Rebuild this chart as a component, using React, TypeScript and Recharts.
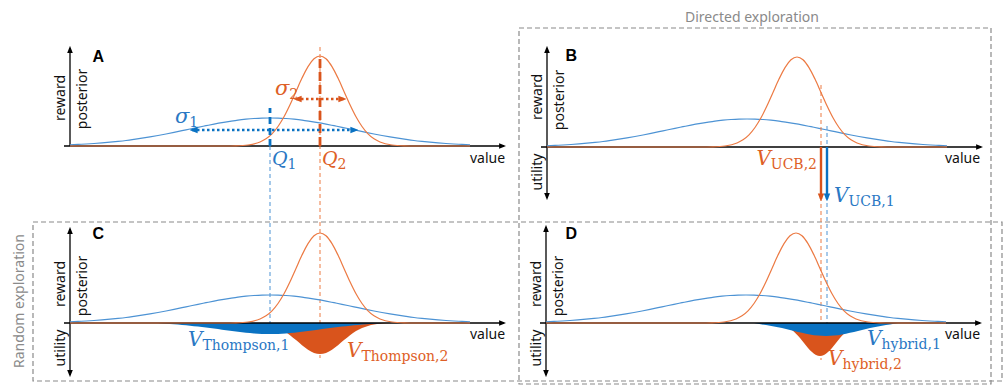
import React from "react";
import {
   Area,
   ComposedChart,
   Line,
   ReferenceDot,
   ReferenceLine,
   XAxis,
   YAxis,
} from "recharts";

// reward posteriors, value axis runs 0..110, heights in density units
const blueX = [
   0, 2, 4, 6, 8, 10, 12, 14, 16, 18, 20, 22, 24, 26, 28, 30, 32, 34, 36, 38,
   40, 42, 44, 46, 48, 50, 52, 54, 56, 58, 60, 62, 64, 66, 68, 70, 72, 74, 76,
   78, 80, 82, 84, 86, 88, 90, 92, 94, 96, 98, 100,
];
const bluePosterior = [
   1.2, 1.6, 2.0, 2.5, 3.1, 3.8, 4.6, 5.5, 6.6, 7.8, 9.1, 10.5, 12.0, 13.6,
   15.3, 17.0, 18.7, 20.3, 21.9, 23.4, 24.7, 25.9, 26.8, 27.5, 27.9, 28.0,
   27.9, 27.5, 26.8, 25.9, 24.7, 23.4, 21.9, 20.3, 18.7, 17.0, 15.3, 13.6,
   12.0, 10.5, 9.1, 7.8, 6.6, 5.5, 4.6, 3.8, 3.1, 2.5, 2.0, 1.6, 1.2,
];
const orangeX = [
   0, 38.5, 41.5, 44.5, 47.5, 49, 50.5, 52, 53.5, 55, 56.5, 58, 59.5, 61, 62.5,
   64, 65.5, 67, 68.5, 70, 71.5, 73, 74.5, 76, 77.5, 80.5, 83.5, 86.5, 100,
];
const orangePosterior = [
   0, 0, 0.2, 1.0, 4.0, 7.2, 12.2, 19.5, 29.2, 41.2, 54.6, 67.9, 79.4, 87.2,
   90.0, 87.2, 79.4, 67.9, 54.6, 41.2, 29.2, 19.5, 12.2, 7.2, 4.0, 1.0, 0.2,
   0, 0,
];

// Thompson utilities (panel C)
const thompsonBlueX = [
   22, 24, 26, 28, 30, 32, 34, 36, 38, 40, 42, 44, 46, 48, 50, 52, 54, 56, 58,
   60, 62, 64, 66, 68, 70, 72, 74, 76, 78,
];
const thompsonBlue = [
   0, -0.8, -1.3, -2.0, -2.7, -3.6, -4.5, -5.6, -6.7, -7.8, -8.8, -9.7, -10.4,
   -10.9, -11.0, -10.9, -10.4, -9.7, -8.8, -7.8, -6.7, -5.6, -4.5, -3.6, -2.7,
   -2.0, -1.3, -0.8, 0,
];
const thompsonOrangeX = [
   44.5, 47.5, 49, 50.5, 52, 53.5, 55, 56.5, 58, 59.5, 61, 62.5, 64, 65.5, 67,
   68.5, 70, 71.5, 73, 74.5, 76, 77.5, 80.5,
];
const thompsonOrange = [
   0, -0.8, -1.5, -2.9, -5.0, -8.1, -12.2, -17.1, -22.2, -26.7, -29.9, -31.0,
   -29.9, -26.7, -22.2, -17.1, -12.2, -8.1, -5.0, -2.9, -1.5, -0.8, 0,
];

// hybrid utilities (panel D)
const hybridBlueX = [
   52, 54, 56, 58, 60, 62, 64, 66, 68, 70, 72, 74, 76, 78, 80, 82, 84, 86, 88,
];
const hybridBlue = [
   0, -1.6, -2.8, -4.2, -6.0, -7.9, -9.8, -11.5, -12.6, -13.0, -12.6, -11.5,
   -9.8, -7.9, -6.0, -4.2, -2.8, -1.6, 0,
];
const hybridOrangeX = [
   56.5, 58.5, 59.5, 60.5, 61.5, 62.5, 63.5, 64.5, 65.5, 66.5, 67.5, 68.5, 69.5,
   70.5, 71.5, 72.5, 73.5, 74.5, 75.5, 76.5, 77.5, 78.5, 80.5,
];
const hybridOrange = [
   0, -1.4, -2.6, -4.5, -7.1, -10.7, -15.1, -20.0, -24.9, -29.1, -32.0, -33.0,
   -32.0, -29.1, -24.9, -20.0, -15.1, -10.7, -7.1, -4.5, -2.6, -1.4, 0,
];

// summary statistics
const Q1 = 50;
const Q2 = 62.5;
const SIGMA1 = 20;
const SIGMA2 = 6;
const UCB1 = Q1 + SIGMA1;
const UCB2 = Q2 + SIGMA2;

const toRows = (xs: number[], ys: number[]) =>
   xs.map((x, i) => ({ x, y: ys[i] }));

const blueRows = toRows(blueX, bluePosterior);
const orangeRows = toRows(orangeX, orangePosterior);

const BLUE_LINE = "#4d93d4";
const ORANGE_LINE = "#ec7a43";
const BLUE_FILL = "#0a72c2";
const ORANGE_FILL = "#d9541c";
const BLUE_TEXT = "#2a78c4";
const ORANGE_TEXT = "#de6026";
const GREY = "#8a8a8a";

const SANS = "'Noto Sans', 'Liberation Sans', sans-serif";
const SERIF = "'DejaVu Serif', serif";

const PANEL_W = 530;
const PANEL_H = 180;
const MARGIN = { top: 10, right: 20, bottom: 10, left: 70 };

const note = (key: string, x: number, y: number, node: React.ReactNode) => (
   <ReferenceDot
      key={key}
      x={x}
      y={y}
      r={1}
      fill="none"
      stroke="none"
      ifOverflow="visible"
      shape={(p: any) => (
         <g transform={`translate(${p.cx},${p.cy})`}>{node}</g>
      )}
   />
);

const word = (text: string, rotate = false, anchor = "middle") => (
   <text
      transform={rotate ? "rotate(-90)" : undefined}
      textAnchor={anchor}
      dominantBaseline="central"
      fontFamily={SANS}
      fontSize={14}
      fill="#111"
   >
      {text}
   </text>
);

const letter = (text: string) => (
   <text
      dominantBaseline="central"
      fontFamily="'Liberation Sans', Arial, sans-serif"
      fontWeight="bold"
      fontSize={16}
      fill="#000"
   >
      {text}
   </text>
);

const math = (
   main: string,
   sub: string,
   color: string,
   anchor = "start",
   mainSize = 20,
   subSize = 14
) => (
   <text textAnchor={anchor} fontFamily={SERIF} fill={color}>
      <tspan fontStyle="italic" fontSize={mainSize}>
         {main}
      </tspan>
      <tspan fontSize={subSize} dy={4}>
         {sub}
      </tspan>
   </text>
);

const seg = (
   key: string,
   x1: number,
   y1: number,
   x2: number,
   y2: number,
   stroke: string,
   width: number,
   extra: Record<string, any> = {}
) => (
   <ReferenceLine
      key={key}
      segment={[
         { x: x1, y: y1 },
         { x: x2, y: y2 },
      ]}
      stroke={stroke}
      strokeWidth={width}
      ifOverflow="visible"
      {...extra}
   />
);

const axes = (top: number, bottom: number) => [
   seg("ax", -1.5, 0, 108.5, 0, "#000", 1.3, {
      markerEnd: "url(#tip-black)",
   }),
   seg("ay", 0, bottom, 0, top, "#000", 1.3, {
      markerEnd: "url(#tip-black)",
      markerStart: bottom < 0 ? "url(#tip-black)" : undefined,
   }),
];

const curves = () => [
   <Line
      key="pb"
      data={blueRows}
      dataKey="y"
      type="monotone"
      stroke={BLUE_LINE}
      strokeWidth={1.2}
      dot={false}
      isAnimationActive={false}
   />,
   <Line
      key="po"
      data={orangeRows}
      dataKey="y"
      type="monotone"
      stroke={ORANGE_LINE}
      strokeWidth={1.2}
      dot={false}
      isAnimationActive={false}
   />,
];

const fill = (key: string, xs: number[], ys: number[], color: string) => (
   <Area
      key={key}
      data={toRows(xs, ys)}
      dataKey="y"
      type="monotone"
      fill={color}
      fillOpacity={1}
      stroke="none"
      isAnimationActive={false}
   />
);

const labels = (withUtility: boolean, rv: number, pv: number) => [
   note("rw", -2.75, rv, word("reward", true)),
   note("ps", 2.9, pv, word("posterior", true)),
   ...(withUtility ? [note("ut", -2.75, -25, word("utility", true))] : []),
];

const Panel: React.FC<{
   left: number;
   top: number;
   children: React.ReactNode;
}> = ({ left, top, children }) => (
   <div style={{ position: "absolute", left, top }}>
      <ComposedChart width={PANEL_W} height={PANEL_H} margin={MARGIN}>
         <XAxis type="number" dataKey="x" domain={[0, 110]} hide />
         <YAxis type="number" domain={[-60, 100]} hide />
         {children}
      </ComposedChart>
   </div>
);

const Marker = ({ id, color, size }: { id: string; color: string; size: number }) => (
   <marker
      id={id}
      viewBox="0 0 10 10"
      refX={7}
      refY={5}
      markerWidth={size}
      markerHeight={size}
      markerUnits="userSpaceOnUse"
      orient="auto-start-reverse"
   >
      <path d="M0,1 L10,5 L0,9 z" fill={color} />
   </marker>
);

export default function App() {
   const thinDash = "4 3";
   return (
      <div
         style={{
            position: "absolute",
            left: 0,
            top: 0,
            width: 1006,
            height: 386,
            background: "#fff",
            overflow: "hidden",
         }}
      >
         <style>{".recharts-surface{overflow:visible}"}</style>
         <svg width={0} height={0} style={{ position: "absolute" }}>
            <defs>
               <Marker id="tip-black" color="#000" size={7} />
               <Marker id="tip-blue" color={BLUE_FILL} size={8} />
               <Marker id="tip-orange" color={ORANGE_FILL} size={8} />
            </defs>
         </svg>

         {/* frames */}
         <svg
            width={1006}
            height={386}
            style={{ position: "absolute", left: 0, top: 0 }}
         >
            <rect
               x={519}
               y={28}
               width={472}
               height={356}
               fill="none"
               stroke={GREY}
               strokeWidth={1.2}
               strokeDasharray="5 3"
            />
            <rect
               x={33}
               y={222}
               width={969}
               height={159}
               fill="none"
               stroke={GREY}
               strokeWidth={1.2}
               strokeDasharray="5 3"
            />
            <text
               x={752}
               y={16}
               textAnchor="middle"
               dominantBaseline="central"
               fontFamily={SANS}
               fontSize={14}
               fill={GREY}
            >
               Directed exploration
            </text>
            <text
               transform="translate(18,301) rotate(-90)"
               textAnchor="middle"
               dominantBaseline="central"
               fontFamily={SANS}
               fontSize={14}
               fill={GREY}
            >
               Random exploration
            </text>
         </svg>

         {/* A */}
         <Panel left={0} top={36}>
            {axes(98, 0)}
            {curves()}
            {seg("qb-thin", Q1, 0, Q1, -177, BLUE_LINE, 1, {
               strokeDasharray: thinDash,
            })}
            {seg("qo-thin", Q2, 99, Q2, -212, ORANGE_LINE, 1, {
               strokeDasharray: thinDash,
            })}
            {seg("qb", Q1, 0, Q1, 38, BLUE_FILL, 2.8, {
               strokeDasharray: "7 4",
            })}
            {seg("qo", Q2, 0, Q2, 89, ORANGE_FILL, 2.8, {
               strokeDasharray: "9 4",
            })}
            {seg("s1", Q1 - SIGMA1 + 0.5, 16, Q1 + SIGMA1 + 1.5, 16, BLUE_FILL, 2.6, {
               strokeDasharray: "2.5 2.5",
               markerStart: "url(#tip-blue)",
               markerEnd: "url(#tip-blue)",
            })}
            {seg("s2", Q2 - SIGMA2, 47, Q2 + SIGMA2, 47, ORANGE_FILL, 2.6, {
               strokeDasharray: "2.5 2.5",
               markerStart: "url(#tip-orange)",
               markerEnd: "url(#tip-orange)",
            })}
            {note("A", 5.6, 89.5, letter("A"))}
            {labels(false, 48, 47)}
            {note("val", 100, -11, word("value", false, "start"))}
            {note("sg1", 26.25, 23, math("σ", "1", BLUE_TEXT, "start", 21, 14))}
            {note("sg2", 51.25, 51, math("σ", "2", ORANGE_TEXT, "start", 21, 14))}
            {note("q1", 50.5, -19, math("Q", "1", BLUE_TEXT, "start", 19, 14))}
            {note("q2", 63, -19, math("Q", "2", ORANGE_TEXT, "start", 19, 14))}
         </Panel>

         {/* B */}
         <Panel left={477} top={37}>
            {axes(99, -51)}
            {curves()}
            {seg("ub-thin", UCB1, 21, UCB1, -187, BLUE_LINE, 1, {
               strokeDasharray: thinDash,
            })}
            {seg("uo-thin", UCB2, 62, UCB2, -213, ORANGE_LINE, 1, {
               strokeDasharray: thinDash,
            })}
            {seg("uo", UCB2, 0, UCB2, -52, ORANGE_FILL, 2.4, {
               markerEnd: "url(#tip-orange)",
            })}
            {seg("ub", UCB1, 0, UCB1, -52, BLUE_FILL, 2.4, {
               markerEnd: "url(#tip-blue)",
            })}
            {note("B", 4.6, 92, letter("B"))}
            {labels(true, 50, 47)}
            {note("val", 99.5, -10, word("value", false, "start"))}
            {note("v2", 67.5, -18, math("V", "UCB,2", ORANGE_TEXT, "end"))}
            {note("v1", 71.75, -55, math("V", "UCB,1", BLUE_TEXT, "start"))}
         </Panel>

         {/* C */}
         <Panel left={0} top={213}>
            {fill("to", thompsonOrangeX, thompsonOrange, ORANGE_FILL)}
            {fill("tb", thompsonBlueX, thompsonBlue, BLUE_FILL)}
            {axes(94, -52)}
            {curves()}
            {note("C", 5.6, 89.5, letter("C"))}
            {labels(true, 39, 37)}
            {note("val", 100, -10, word("value", false, "start"))}
            {note("t1", 29.5, -23, math("V", "Thompson,1", BLUE_TEXT))}
            {note("t2", 69.25, -34, math("V", "Thompson,2", ORANGE_TEXT))}
         </Panel>

         {/* D */}
         <Panel left={476} top={213}>
            {fill("ho", hybridOrangeX, hybridOrange, ORANGE_FILL)}
            {fill("hb", hybridBlueX, hybridBlue, BLUE_FILL)}
            {axes(96, -52)}
            {curves()}
            {note("D", 4.9, 89.5, letter("D"))}
            {labels(true, 39, 37)}
            {note("val", 99.75, -10, word("value", false, "start"))}
            {note("h1", 80.25, -22, math("V", "hybrid,1", BLUE_TEXT))}
            {note("h2", 70.5, -42, math("V", "hybrid,2", ORANGE_TEXT))}
         </Panel>
      </div>
   );
}
